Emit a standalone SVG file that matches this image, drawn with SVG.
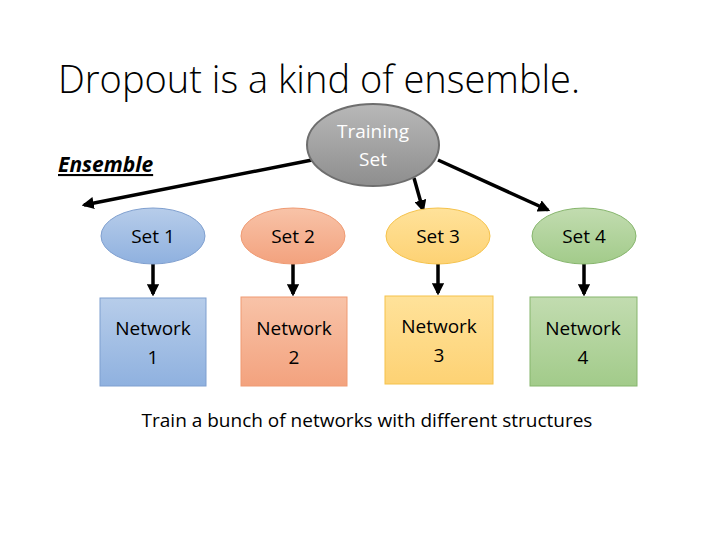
<svg xmlns="http://www.w3.org/2000/svg" width="720" height="540" viewBox="0 0 720 540">
<defs>
<linearGradient id="gG" x1="0" y1="0" x2="0" y2="1"><stop offset="0" stop-color="#b8b8b8"/><stop offset="1" stop-color="#8e8e8e"/></linearGradient>
<linearGradient id="gB" x1="0" y1="0" x2="0" y2="1"><stop offset="0" stop-color="#b7cdea"/><stop offset="1" stop-color="#8fb1df"/></linearGradient>
<linearGradient id="gO" x1="0" y1="0" x2="0" y2="1"><stop offset="0" stop-color="#f8c3a8"/><stop offset="1" stop-color="#f3a27e"/></linearGradient>
<linearGradient id="gY" x1="0" y1="0" x2="0" y2="1"><stop offset="0" stop-color="#ffe29a"/><stop offset="1" stop-color="#fdd274"/></linearGradient>
<linearGradient id="gN" x1="0" y1="0" x2="0" y2="1"><stop offset="0" stop-color="#c2dcb0"/><stop offset="1" stop-color="#a2cb8a"/></linearGradient>
<marker id="ah" viewBox="0 0 10 10" refX="8" refY="5" markerWidth="3.5" markerHeight="3.5" orient="auto"><path d="M0,0L10,5L0,10z" fill="#000"/></marker>
</defs>
<style>
text{font-family:"Open Sans","Liberation Sans",sans-serif;fill:#000}
.t{font-size:19px;text-anchor:middle}
.c line{stroke:#000;stroke-width:3.5;marker-end:url(#ah)}
</style>
<rect width="720" height="540" fill="#fff"/>
<text x="58" y="93" style="font-size:38px;font-weight:300">Dropout is a kind of ensemble.</text>
<text x="58" y="172" style="font-size:21px;font-weight:bold;font-style:italic;text-decoration:underline">Ensemble</text>
<g class="c">
<line x1="312" y1="160" x2="84" y2="205"/>
<line x1="414" y1="178" x2="423" y2="210"/>
<line x1="438" y1="160" x2="548" y2="210"/>
<line x1="153" y1="264" x2="153" y2="294"/>
<line x1="293" y1="264" x2="293" y2="294"/>
<line x1="438" y1="264" x2="438" y2="293"/>
<line x1="584" y1="264" x2="584" y2="294"/>
</g>
<g id="training"><ellipse cx="373" cy="145" rx="66" ry="41" fill="url(#gG)" stroke="#6e6e6e" stroke-width="2"/>
<text class="t" x="373" y="138" style="fill:#fff">Training</text><text class="t" x="373" y="166" style="fill:#fff">Set</text></g>
<g id="set1"><ellipse cx="153" cy="236" rx="52" ry="28" fill="url(#gB)" stroke="#7f9fcf"/><text class="t" x="153" y="243">Set 1</text></g>
<g id="set2"><ellipse cx="293" cy="236" rx="52" ry="28" fill="url(#gO)" stroke="#ef9a72"/><text class="t" x="293" y="243">Set 2</text></g>
<g id="set3"><ellipse cx="438" cy="236" rx="52" ry="28" fill="url(#gY)" stroke="#f5c24a"/><text class="t" x="438" y="243">Set 3</text></g>
<g id="set4"><ellipse cx="584" cy="236" rx="52" ry="28" fill="url(#gN)" stroke="#86b56c"/><text class="t" x="584" y="243">Set 4</text></g>
<g id="net1"><rect x="100" y="298" width="106" height="88" fill="url(#gB)" stroke="#7f9fcf"/><text class="t" x="153" y="335">Network</text><text class="t" x="153" y="364">1</text></g>
<g id="net2"><rect x="241" y="297" width="106" height="89" fill="url(#gO)" stroke="#ef9a72"/><text class="t" x="294" y="335">Network</text><text class="t" x="294" y="364">2</text></g>
<g id="net3"><rect x="385" y="296" width="108" height="88" fill="url(#gY)" stroke="#f5c24a"/><text class="t" x="439" y="333">Network</text><text class="t" x="439" y="362">3</text></g>
<g id="net4"><rect x="530" y="297" width="107" height="89" fill="url(#gN)" stroke="#86b56c"/><text class="t" x="583" y="335">Network</text><text class="t" x="583" y="364">4</text></g>
<text x="367" y="427" style="font-size:19px;text-anchor:middle">Train a bunch of networks with different structures</text>
</svg>
